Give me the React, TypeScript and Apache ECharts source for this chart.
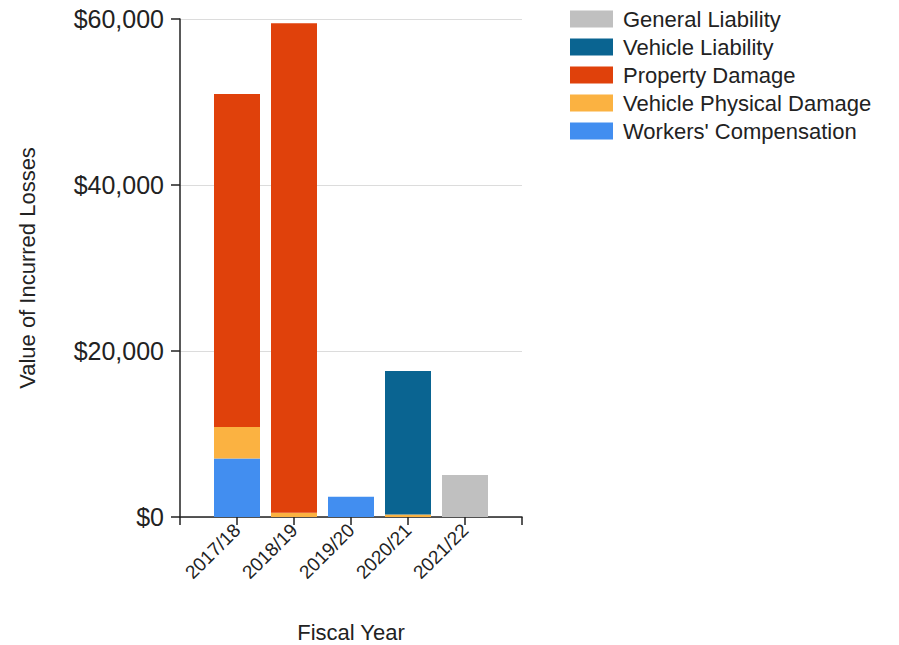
import React, { useEffect, useRef } from "react";
import * as echarts from "echarts";

const categories = ["", "2017/18", "2018/19", "2019/20", "2020/21", "2021/22", ""];
const workersComp = [null, 7050, null, 2450, null, null, null];
const vehiclePhysical = [null, 3800, 500, null, 300, null, null];
const propertyDamage = [null, 40100, 59000, null, null, null, null];
const vehicleLiability = [null, null, null, null, 17300, null, null];
const generalLiability = [null, null, null, null, null, 5050, null];
const yTicks = [0, 20000, 40000, 60000];

const FONT = "Liberation Sans, Arial, sans-serif";

export default function App() {
  const ref = useRef<HTMLDivElement>(null);
  useEffect(() => {
    if (!ref.current) return;
    const chart = echarts.init(ref.current, undefined, { renderer: "svg" });
    const mk = (name: string, data: (number | null)[], color: string) => ({
      name,
      type: "bar",
      stack: "total",
      data: data.map((v) => (v == null ? "-" : v)),
      barWidth: 46,
      itemStyle: { color },
    });
    chart.setOption({
      animation: false,
      textStyle: { fontFamily: FONT },
      grid: { left: 180, right: 377, top: 19, bottom: 128, outerBoundsMode: "none", containLabel: false },
      legend: {
        orient: "vertical",
        left: 570,
        top: 8,
        padding: 0,
        itemWidth: 43,
        itemHeight: 17,
        itemGap: 6,
        icon: "rect",
        textStyle: { fontSize: 22, color: "#222", fontFamily: FONT, padding: [0, 0, 0, 5] },
        data: [
          "General Liability",
          "Vehicle Liability",
          "Property Damage",
          "Vehicle Physical Damage",
          "Workers' Compensation",
        ],
      },
      xAxis: {
        type: "category",
        data: categories,
        boundaryGap: false,
        name: "Fiscal Year",
        nameLocation: "middle",
        nameGap: 104,
        nameTextStyle: { fontSize: 22, color: "#222", fontFamily: FONT },
        axisLine: { lineStyle: { color: "#222", width: 1.5 } },
        axisTick: { show: true, length: 8, lineStyle: { color: "#222", width: 1.5 }, interval: 0 },
        axisLabel: { rotate: 45, fontSize: 19, color: "#222", interval: 0, margin: 10 },
        splitLine: { show: false },
      },
      yAxis: {
        type: "value",
        min: yTicks[0],
        max: yTicks[yTicks.length - 1],
        interval: 20000,
        name: "Value of Incurred Losses",
        nameLocation: "middle",
        nameGap: 142,
        nameTextStyle: { fontSize: 22, color: "#222", fontFamily: FONT },
        axisLine: { show: true, lineStyle: { color: "#222", width: 1.5 } },
        axisTick: { show: true, length: 9, lineStyle: { color: "#222", width: 1.5 } },
        axisLabel: {
          fontSize: 25,
          color: "#222",
          margin: 16,
          formatter: (v: number) => "$" + v.toLocaleString("en-US"),
        },
        splitLine: { show: true, lineStyle: { color: "#dcdcdc", width: 1 } },
      },
      series: [
        mk("Workers' Compensation", workersComp, "#428ef0"),
        mk("Vehicle Physical Damage", vehiclePhysical, "#fbb241"),
        mk("Property Damage", propertyDamage, "#e0410b"),
        mk("Vehicle Liability", vehicleLiability, "#0a6491"),
        mk("General Liability", generalLiability, "#c0c0c0"),
      ],
    });
    return () => chart.dispose();
  }, []);
  return <div ref={ref} style={{ width: 899, height: 645, position: "absolute", left: 0, top: 0 }} />;
}
